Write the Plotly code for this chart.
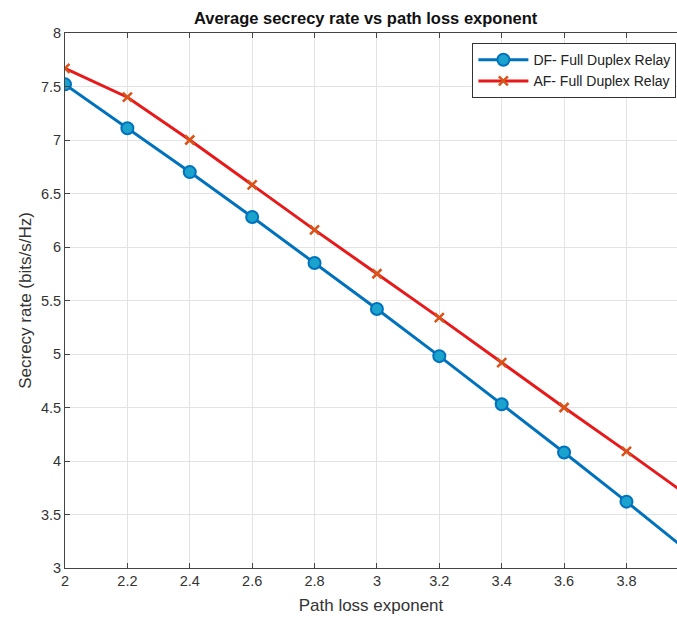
import plotly.graph_objects as go

path_loss = [2.0, 2.2, 2.4, 2.6, 2.8, 3.0, 3.2, 3.4, 3.6, 3.8, 4.0]
df_rate = [7.52, 7.11, 6.70, 6.28, 5.85, 5.42, 4.98, 4.53, 4.08, 3.62, 3.15]
af_rate = [7.67, 7.40, 7.00, 6.58, 6.16, 5.75, 5.34, 4.92, 4.50, 4.09, 3.67]

x_ticks = [2, 2.2, 2.4, 2.6, 2.8, 3, 3.2, 3.4, 3.6, 3.8]
x_tick_text = ["2", "2.2", "2.4", "2.6", "2.8", "3", "3.2", "3.4", "3.6", "3.8"]
y_ticks = [3, 3.5, 4, 4.5, 5, 5.5, 6, 6.5, 7, 7.5, 8]
y_tick_text = ["3", "3.5", "4", "4.5", "5", "5.5", "6", "6.5", "7", "7.5", "8"]

FONT = "Liberation Sans, Arial, sans-serif"

fig = go.Figure()
fig.add_trace(go.Scatter(
    x=path_loss, y=df_rate, mode="lines+markers", name="DF- Full Duplex Relay",
    line=dict(color="#0072BD", width=3),
    marker=dict(symbol="circle", size=12, color="#1AA3CC",
                line=dict(color="#0072BD", width=2)),
))
fig.add_trace(go.Scatter(
    x=path_loss, y=af_rate, mode="lines+markers", name="AF- Full Duplex Relay",
    line=dict(color="#E8191A", width=3),
    marker=dict(symbol="x-thin", size=9, color="#D95319",
                line=dict(color="#D95319", width=2.5)),
))

axis_font = dict(family=FONT, size=14.5, color="#333333")
fig.update_layout(
    width=677, height=622,
    margin=dict(l=65, r=0, t=33, b=54),
    paper_bgcolor="white", plot_bgcolor="white",
    title=dict(text="<b>Average secrecy rate vs path loss exponent</b>",
               x=0.54, xanchor="center", y=0.97, yanchor="middle",
               font=dict(family=FONT, size=16.5, color="#111111")),
    legend=dict(x=0.999, y=0.981, xanchor="right", yanchor="top",
                bgcolor="white", bordercolor="#333333", borderwidth=1,
                font=dict(family=FONT, size=14, color="#222222"),
                tracegroupgap=0, itemwidth=50),
    showlegend=True,
)
fig.update_xaxes(
    range=[2, 3.962], tickvals=x_ticks, ticktext=x_tick_text,
    showgrid=True, gridcolor="#E3E3E3", gridwidth=1,
    showline=True, linecolor="#444444", linewidth=1, mirror="ticks",
    ticks="inside", ticklen=5, tickcolor="#444444",
    tickfont=axis_font, zeroline=False,
    title=dict(text="Path loss exponent", font=dict(family=FONT, size=17, color="#333333"), standoff=10),
)
fig.update_yaxes(
    range=[3, 8], tickvals=y_ticks, ticktext=y_tick_text,
    showgrid=True, gridcolor="#E3E3E3", gridwidth=1,
    showline=True, linecolor="#444444", linewidth=1, mirror=False,
    ticks="inside", ticklen=5, tickcolor="#444444",
    tickfont=axis_font, zeroline=False,
    title=dict(text="Secrecy rate (bits/s/Hz)", font=dict(family=FONT, size=17, color="#333333"), standoff=4),
)

fig.write_html(
    "out.html",
    config={"displayModeBar": False},
    post_script="document.body.style.margin='0';document.body.style.overflow='hidden';",
)
